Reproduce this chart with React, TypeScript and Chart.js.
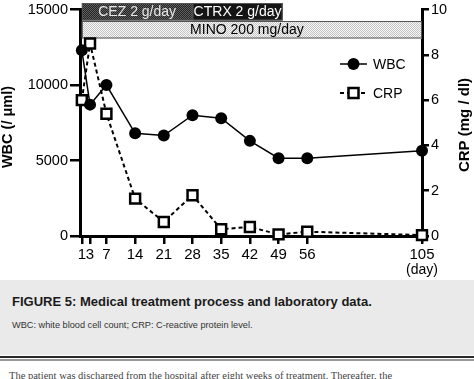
import React, { useEffect, useRef } from 'react';
import { Chart, registerables, LinearScale } from 'chart.js';

Chart.register(...registerables);

// ---- data ----
const days = [1, 3, 7, 14, 21, 28, 35, 42, 49, 56, 105];
const wbc = [12300, 8700, 10000, 6800, 6650, 8000, 7800, 6300, 5150, 5150, 5650];
const crp = [6.0, 8.5, 5.4, 1.65, 0.62, 1.8, 0.3, 0.4, 0.07, 0.19, 0.04];
const xTicks = [1, 3, 7, 14, 21, 28, 35, 42, 49, 56, 105];
const wbcTicks = [0, 5000, 10000, 15000];
const crpTicks = [0, 2, 4, 6, 8, 10];
const treatmentNames = ['CEZ 2 g/day', 'CTRX 2 g/day', 'MINO 200 mg/day'];
const treatmentStart = [1, 28, 1];
const treatmentEnd = [28, 50, 105];
const treatmentRow = [0, 0, 1];

// ---- broken (compressed after day 56) x scale ----
const BREAK = 56;
const COMPRESS = 4 / 7;
const warp = (v: number) => (v <= BREAK ? v : BREAK + (v - BREAK) * COMPRESS);
const unwarp = (w: number) => (w <= BREAK ? w : BREAK + (w - BREAK) / COMPRESS);

class BrokenLinearScale extends LinearScale {
  static id = 'brokenLinear';
  static defaults = {};
  getPixelForValue(value: any) {
    if (value === null || value === undefined) return NaN;
    const a = warp(this.min);
    const b = warp(this.max);
    return this.getPixelForDecimal((warp(value) - a) / (b - a));
  }
  getValueForPixel(pixel: number) {
    const a = warp(this.min);
    const b = warp(this.max);
    return unwarp(a + this.getDecimalForPixel(pixel) * (b - a));
  }
}
Chart.register(BrokenLinearScale as any);

const FONT = "'Liberation Sans', Arial, Helvetica, sans-serif";
Chart.defaults.font.family = FONT;
Chart.defaults.color = '#000';

function makePattern(ctx: CanvasRenderingContext2D, a: string, b: string) {
  const c = document.createElement('canvas');
  c.width = 2;
  c.height = 2;
  const g = c.getContext('2d')!;
  g.fillStyle = b;
  g.fillRect(0, 0, 2, 2);
  g.fillStyle = a;
  g.fillRect(0, 0, 1, 1);
  g.fillRect(1, 1, 1, 1);
  return ctx.createPattern(c, 'repeat')!;
}

const overlayPlugin = {
  id: 'overlay',
  beforeDatasetsDraw(chart: any) {
    const { ctx, chartArea, scales } = chart;
    const xs = scales.x;
    const rowH = 17.5;
    const top0 = chartArea.top - 6.5;
    const fills = [
      makePattern(ctx, '#5e5e5e', '#262626'),
      '#151515',
      makePattern(ctx, '#c4c4c4', '#f6f6f6'),
    ];
    const textColors = ['#e8e8e8', '#ffffff', '#000000'];
    ctx.save();
    for (let i = 0; i < treatmentNames.length; i++) {
      const x0 = xs.getPixelForValue(treatmentStart[i]);
      const x1 = xs.getPixelForValue(treatmentEnd[i]);
      const y0 = top0 + treatmentRow[i] * (rowH + 0.5);
      ctx.fillStyle = fills[i];
      ctx.fillRect(x0, y0, x1 - x0, rowH);
      ctx.strokeStyle = '#555';
      ctx.lineWidth = 1;
      ctx.strokeRect(x0 + 0.5, y0 + 0.5, x1 - x0 - 1, rowH - 1);
      ctx.fillStyle = textColors[i];
      ctx.font = `14px ${FONT}`;
      ctx.textBaseline = 'middle';
      ctx.textAlign = 'center';
      const cx = i === 2 ? (x0 + x1) / 2 - 5 : (x0 + x1) / 2;
      ctx.fillText(treatmentNames[i], cx, y0 + rowH / 2 + 0.5);
    }
    ctx.restore();
  },
  afterDraw(chart: any) {
    const { ctx, chartArea, scales } = chart;
    ctx.save();
    // axis titles
    ctx.fillStyle = '#000';
    ctx.textAlign = 'center';
    ctx.textBaseline = 'middle';
    ctx.save();
    ctx.font = `bold 14.5px ${FONT}`;
    ctx.translate(7.5, 127);
    ctx.rotate(-Math.PI / 2);
    ctx.fillText('WBC (/ μml)', 0, 0);
    ctx.restore();
    ctx.save();
    ctx.font = `bold 15px ${FONT}`;
    ctx.translate(465, 125);
    ctx.rotate(-Math.PI / 2);
    ctx.fillText('CRP (mg / dl)', 0, 0);
    ctx.restore();
    // (day)
    ctx.font = `14px ${FONT}`;
    ctx.fillText('(day)', scales.x.getPixelForValue(105), 270);
    // legend
    const lx0 = chartArea.right - 82;
    const lx1 = chartArea.right - 55;
    const lm = (lx0 + lx1) / 2;
    const ly1 = 64;
    const ly2 = 93;
    ctx.strokeStyle = '#000';
    ctx.lineWidth = 1.5;
    ctx.beginPath();
    ctx.moveTo(lx0, ly1);
    ctx.lineTo(lx1, ly1);
    ctx.stroke();
    ctx.fillStyle = '#000';
    ctx.beginPath();
    ctx.arc(lm, ly1, 6, 0, Math.PI * 2);
    ctx.fill();
    ctx.lineWidth = 2;
    ctx.setLineDash([4, 3]);
    ctx.beginPath();
    ctx.moveTo(lx0, ly2);
    ctx.lineTo(lx1, ly2);
    ctx.stroke();
    ctx.setLineDash([]);
    ctx.fillStyle = '#fff';
    ctx.fillRect(lm - 5, ly2 - 5, 10, 10);
    ctx.lineWidth = 2.5;
    ctx.strokeRect(lm - 5, ly2 - 5, 10, 10);
    ctx.fillStyle = '#000';
    ctx.font = `14px ${FONT}`;
    ctx.textAlign = 'left';
    ctx.fillText('WBC', lx1 + 6, ly1 + 1);
    ctx.fillText('CRP', lx1 + 6, ly2 + 1);
    ctx.restore();
  },
};

export default function App() {
  const ref = useRef<HTMLCanvasElement>(null);
  useEffect(() => {
    if (!ref.current) return;
    const chart = new Chart(ref.current, {
      type: 'line',
      data: {
        datasets: [
          {
            label: 'WBC',
            data: days.map((d, i) => ({ x: d, y: wbc[i] })),
            yAxisID: 'y',
            borderColor: '#000',
            borderWidth: 1.5,
            pointRadius: 6,
            pointBackgroundColor: '#000',
            pointBorderColor: '#000',
            pointBorderWidth: 0,
            clip: false as any,
            tension: 0,
          },
          {
            label: 'CRP',
            data: days.map((d, i) => ({ x: d, y: crp[i] })),
            yAxisID: 'y1',
            borderColor: '#000',
            borderWidth: 2,
            borderDash: [4, 3],
            pointStyle: 'rect',
            pointRadius: 7,
            pointBackgroundColor: '#fff',
            pointBorderColor: '#000',
            pointBorderWidth: 2.5,
            clip: false as any,
            tension: 0,
          },
        ],
      },
      options: {
        animation: false,
        responsive: false,
        layout: { padding: 0 },
        plugins: { legend: { display: false }, tooltip: { enabled: false } },
        scales: {
          x: {
            type: 'brokenLinear' as any,
            min: 0.55,
            max: 105,
            afterBuildTicks: (s: any) => {
              s.ticks = xTicks.map((v) => ({ value: v }));
            },
            afterFit: (s: any) => {
              s.height = 44;
              s.paddingLeft = 0;
              s.paddingRight = 0;
            },
            ticks: {
              autoSkip: false,
              maxRotation: 0,
              padding: 2,
              font: { size: 15 },
              color: '#000',
              callback: (v: any) => String(v),
            },
            grid: { drawOnChartArea: false, drawTicks: true, tickLength: 8, lineWidth: 2.5, color: '#000' },
            border: { display: true, width: 3, color: '#000' },
          },
          y: {
            type: 'linear',
            position: 'left',
            min: 0,
            max: 15000,
            afterBuildTicks: (s: any) => {
              s.ticks = wbcTicks.map((v) => ({ value: v }));
            },
            afterFit: (s: any) => {
              s.width = 80;
              s.paddingTop = 6.5;
              s.paddingBottom = 0;
            },
            ticks: { padding: 2, font: { size: 14.5 }, color: '#000', callback: (v: any) => String(v) },
            grid: { drawOnChartArea: false, drawTicks: true, tickLength: 10, lineWidth: 2.5, color: '#000' },
            border: { display: true, width: 3, color: '#000' },
          },
          y1: {
            type: 'linear',
            position: 'right',
            min: 0,
            max: 10,
            afterBuildTicks: (s: any) => {
              s.ticks = crpTicks.map((v) => ({ value: v }));
            },
            afterFit: (s: any) => {
              s.width = 52;
              s.paddingTop = 6.5;
              s.paddingBottom = 0;
            },
            ticks: { padding: 2, font: { size: 14.5 }, color: '#000', callback: (v: any) => String(v) },
            grid: { drawOnChartArea: false, drawTicks: true, tickLength: 7, lineWidth: 2.5, color: '#000' },
            border: { display: true, width: 3, color: '#000' },
          },
        },
      },
      plugins: [overlayPlugin as any],
    });
    return () => chart.destroy();
  }, []);

  return (
    <div
      style={{
        position: 'absolute',
        left: 0,
        top: 0,
        width: 474,
        height: 379,
        overflow: 'hidden',
        background: '#fff',
        fontFamily: FONT,
      }}
    >
      <canvas ref={ref} width={474} height={280} style={{ display: 'block', width: 474, height: 280 }} />
      <div style={{ position: 'absolute', left: 0, top: 280, width: 474, height: 75, background: '#eaeaea' }} />
      <div
        style={{
          position: 'absolute',
          left: 12,
          top: 294,
          lineHeight: '16px',
          fontSize: 13,
          fontWeight: 'bold',
          color: '#1a1a1a',
          whiteSpace: 'nowrap',
        }}
      >
        FIGURE 5: Medical treatment process and laboratory data.
      </div>
      <div
        style={{
          position: 'absolute',
          left: 12,
          top: 319,
          lineHeight: '12px',
          fontSize: 9.2,
          color: '#333',
          whiteSpace: 'nowrap',
        }}
      >
        WBC: white blood cell count; CRP: C-reactive protein level.
      </div>
      <div style={{ position: 'absolute', left: 0, top: 356, width: 474, height: 2, background: '#2a2a2a' }} />
      <div style={{ position: 'absolute', left: 0, top: 359, width: 474, height: 2, background: '#999' }} />
      <div
        style={{
          position: 'absolute',
          left: 9,
          top: 370,
          lineHeight: '12px',
          fontSize: 10.5,
          fontFamily: "'Liberation Serif', 'Times New Roman', serif",
          color: '#444',
          whiteSpace: 'nowrap',
        }}
      >
        The patient was discharged from the hospital after eight weeks of treatment. Thereafter, the
      </div>
    </div>
  );
}
